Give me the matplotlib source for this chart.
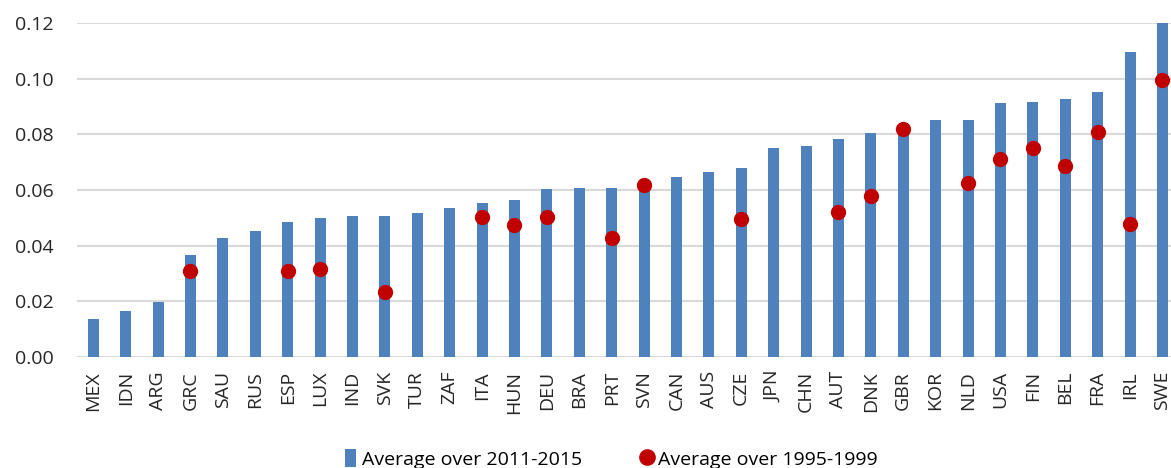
import numpy as np
import matplotlib.pyplot as plt
from matplotlib.lines import Line2D
from matplotlib.patches import Patch

# Country codes, sorted by the 2011-2015 average
countries = ['MEX', 'IDN', 'ARG', 'GRC', 'SAU', 'RUS', 'ESP', 'LUX', 'IND', 'SVK',
             'TUR', 'ZAF', 'ITA', 'HUN', 'DEU', 'BRA', 'PRT', 'SVN', 'CAN', 'AUS',
             'CZE', 'JPN', 'CHN', 'AUT', 'DNK', 'GBR', 'KOR', 'NLD', 'USA', 'FIN',
             'BEL', 'FRA', 'IRL', 'SWE']

avg_2011_2015 = [0.0138, 0.0164, 0.0196, 0.0365, 0.0426, 0.0451, 0.0484, 0.0501,
                 0.0505, 0.0508, 0.0516, 0.0534, 0.0554, 0.0563, 0.0602, 0.0606,
                 0.0606, 0.0619, 0.0646, 0.0663, 0.0680, 0.0750, 0.0757, 0.0784,
                 0.0804, 0.0815, 0.0850, 0.0853, 0.0913, 0.0917, 0.0928, 0.0953,
                 0.1096, 0.1220]

avg_1995_1999 = [None, None, None, 0.0309, None, None, 0.0309, 0.0315,
                 None, 0.0235, None, None, 0.0503, 0.0475, 0.0503, None,
                 0.0426, 0.0619, None, None, 0.0497, None, None, 0.0521,
                 0.0577, 0.0818, None, 0.0624, 0.0710, 0.0751, 0.0685, 0.0808,
                 0.0478, 0.0994]

yticks = [0.00, 0.02, 0.04, 0.06, 0.08, 0.10, 0.12]

bar_color = '#4F81BD'
dot_color = '#C00000'

x = np.arange(len(countries))
dots = np.array([np.nan if v is None else v for v in avg_1995_1999], dtype=float)

fig = plt.figure(figsize=(11.71, 4.68), dpi=100)
ax = fig.add_axes([0.0658, 0.2372, 0.9407, 0.7137])

ax.bar(x, avg_2011_2015, width=0.34, color=bar_color, zorder=2)
ax.plot(x, dots, 'o', color=dot_color, markersize=10, linestyle='none', zorder=3)

ax.set_xlim(-0.5, len(countries) - 0.5)
ax.set_ylim(0, 0.12)
ax.set_yticks(yticks)
ax.set_yticklabels([f'{t:.2f}' for t in yticks], fontsize=14, color='#262626',
                   family='Open Sans')
ax.set_xticks(x)
ax.set_xticklabels(countries, rotation=90, fontsize=14, color='#262626',
                   family='Open Sans')
ax.tick_params(axis='both', length=0)
ax.tick_params(axis='y', pad=17)
ax.tick_params(axis='x', pad=10)

ax.set_axisbelow(True)
ax.grid(axis='y', color='#D9D9D9', linewidth=1.5)
for s in ax.spines.values():
    s.set_visible(False)

handles = [Patch(facecolor=bar_color, edgecolor='none'),
           Line2D([], [], marker='o', color=dot_color, linestyle='none', markersize=11)]
fig.legend(handles, ['Average over 2011-2015', 'Average over 1995-1999'],
           loc='center', bbox_to_anchor=(0.522, 0.02), ncol=2, frameon=False,
           handlelength=0.6, handleheight=1.1, handletextpad=0.3,
           columnspacing=3.0, prop={'family': 'Open Sans', 'size': 14})

fig.savefig('out.png', dpi=100)
